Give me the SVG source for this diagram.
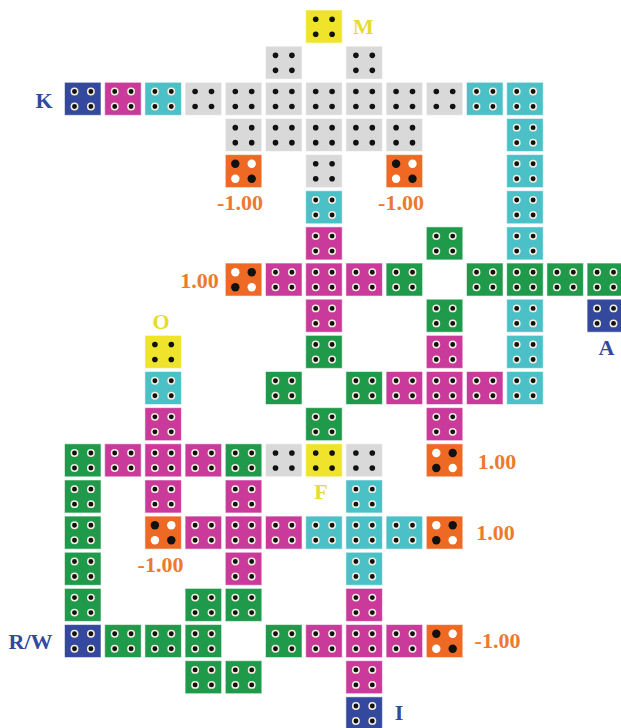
<svg xmlns="http://www.w3.org/2000/svg" xmlns:xlink="http://www.w3.org/1999/xlink" width="621" height="728" viewBox="0 0 621 728">
<style>
.cell{stroke:#ffffff;stroke-opacity:0.55;stroke-width:1}
.gray{fill:#d9d9d9}.blue{fill:#34499d}.mag{fill:#c93a9b}.cyan{fill:#4bc1c7}.grn{fill:#1f9a4a}.yel{fill:#efe42b}.org{fill:#ee6a24}
.lbl{font-family:"Liberation Serif","Times New Roman",serif;font-weight:bold;font-size:22px;text-anchor:middle}
.lb{fill:#34499d}.ly{fill:#e6dc2e}.lo{fill:#ec7a2e}
.rd{fill:#111;stroke:#f4eedf;stroke-width:1.5}
.pd{fill:#111}
</style>
<defs>
<rect id="box" class="cell" x="0" y="0" width="36.5" height="33"/>
<g id="dots">
<circle class="rd" cx="10" cy="9.2" r="3.2"/>
<circle class="rd" cx="26.4" cy="9.2" r="3.2"/>
<circle class="rd" cx="10" cy="24.2" r="3.2"/>
<circle class="rd" cx="26.4" cy="24.2" r="3.2"/>
</g>
<g id="pdots">
<circle class="pd" cx="10" cy="9.2" r="2.8"/>
<circle class="pd" cx="26.4" cy="9.2" r="2.8"/>
<circle class="pd" cx="10" cy="24.2" r="2.8"/>
<circle class="pd" cx="26.4" cy="24.2" r="2.8"/>
</g>
<g id="oa">
<circle cx="10" cy="9.2" r="4.2" fill="#111"/>
<circle cx="26.4" cy="9.2" r="4.2" fill="#fff"/>
<circle cx="10" cy="24.2" r="4.2" fill="#fff"/>
<circle cx="26.4" cy="24.2" r="4.2" fill="#111"/>
</g>
<g id="ob">
<circle cx="10" cy="9.2" r="4.2" fill="#fff"/>
<circle cx="26.4" cy="9.2" r="4.2" fill="#111"/>
<circle cx="10" cy="24.2" r="4.2" fill="#111"/>
<circle cx="26.4" cy="24.2" r="4.2" fill="#fff"/>
</g>
</defs>
<rect width="621" height="728" fill="#ffffff"/>
<g id="connectors"/>
<g id="nodes">
<!-- row 0 -->
<g id="r0c6" transform="translate(305.7,10)"><use href="#box" class="yel"/><use href="#pdots"/></g>
<!-- row 1 -->
<g id="r1c5" transform="translate(265.5,46.15)"><use href="#box" class="gray"/><use href="#pdots"/></g>
<g id="r1c7" transform="translate(345.9,46.15)"><use href="#box" class="gray"/><use href="#pdots"/></g>
<!-- row 2 -->
<g id="r2c0" transform="translate(64.5,82.3)"><use href="#box" class="blue"/><use href="#dots"/></g>
<g id="r2c1" transform="translate(104.7,82.3)"><use href="#box" class="mag"/><use href="#dots"/></g>
<g id="r2c2" transform="translate(144.9,82.3)"><use href="#box" class="cyan"/><use href="#dots"/></g>
<g id="r2c3" transform="translate(185.1,82.3)"><use href="#box" class="gray"/><use href="#pdots"/></g>
<g id="r2c4" transform="translate(225.3,82.3)"><use href="#box" class="gray"/><use href="#pdots"/></g>
<g id="r2c5" transform="translate(265.5,82.3)"><use href="#box" class="gray"/><use href="#pdots"/></g>
<g id="r2c6" transform="translate(305.7,82.3)"><use href="#box" class="gray"/><use href="#pdots"/></g>
<g id="r2c7" transform="translate(345.9,82.3)"><use href="#box" class="gray"/><use href="#pdots"/></g>
<g id="r2c8" transform="translate(386.1,82.3)"><use href="#box" class="gray"/><use href="#pdots"/></g>
<g id="r2c9" transform="translate(426.3,82.3)"><use href="#box" class="gray"/><use href="#pdots"/></g>
<g id="r2c10" transform="translate(466.5,82.3)"><use href="#box" class="cyan"/><use href="#dots"/></g>
<g id="r2c11" transform="translate(506.7,82.3)"><use href="#box" class="cyan"/><use href="#dots"/></g>
<!-- row 3 -->
<g id="r3c4" transform="translate(225.3,118.45)"><use href="#box" class="gray"/><use href="#pdots"/></g>
<g id="r3c5" transform="translate(265.5,118.45)"><use href="#box" class="gray"/><use href="#pdots"/></g>
<g id="r3c6" transform="translate(305.7,118.45)"><use href="#box" class="gray"/><use href="#pdots"/></g>
<g id="r3c7" transform="translate(345.9,118.45)"><use href="#box" class="gray"/><use href="#pdots"/></g>
<g id="r3c8" transform="translate(386.1,118.45)"><use href="#box" class="gray"/><use href="#pdots"/></g>
<g id="r3c11" transform="translate(506.7,118.45)"><use href="#box" class="cyan"/><use href="#dots"/></g>
<!-- row 4 -->
<g id="r4c4" transform="translate(225.3,154.6)"><use href="#box" class="org"/><use href="#oa"/></g>
<g id="r4c6" transform="translate(305.7,154.6)"><use href="#box" class="gray"/><use href="#pdots"/></g>
<g id="r4c8" transform="translate(386.1,154.6)"><use href="#box" class="org"/><use href="#oa"/></g>
<g id="r4c11" transform="translate(506.7,154.6)"><use href="#box" class="cyan"/><use href="#dots"/></g>
<!-- row 5 -->
<g id="r5c6" transform="translate(305.7,190.75)"><use href="#box" class="cyan"/><use href="#dots"/></g>
<g id="r5c11" transform="translate(506.7,190.75)"><use href="#box" class="cyan"/><use href="#dots"/></g>
<!-- row 6 -->
<g id="r6c6" transform="translate(305.7,226.9)"><use href="#box" class="mag"/><use href="#dots"/></g>
<g id="r6c9" transform="translate(426.3,226.9)"><use href="#box" class="grn"/><use href="#dots"/></g>
<g id="r6c11" transform="translate(506.7,226.9)"><use href="#box" class="cyan"/><use href="#dots"/></g>
<!-- row 7 -->
<g id="r7c4" transform="translate(225.3,263.05)"><use href="#box" class="org"/><use href="#ob"/></g>
<g id="r7c5" transform="translate(265.5,263.05)"><use href="#box" class="mag"/><use href="#dots"/></g>
<g id="r7c6" transform="translate(305.7,263.05)"><use href="#box" class="mag"/><use href="#dots"/></g>
<g id="r7c7" transform="translate(345.9,263.05)"><use href="#box" class="mag"/><use href="#dots"/></g>
<g id="r7c8" transform="translate(386.1,263.05)"><use href="#box" class="grn"/><use href="#dots"/></g>
<g id="r7c10" transform="translate(466.5,263.05)"><use href="#box" class="grn"/><use href="#dots"/></g>
<g id="r7c11" transform="translate(506.7,263.05)"><use href="#box" class="grn"/><use href="#dots"/></g>
<g id="r7c12" transform="translate(546.9,263.05)"><use href="#box" class="grn"/><use href="#dots"/></g>
<g id="r7c13" transform="translate(587.1,263.05)"><use href="#box" class="grn"/><use href="#dots"/></g>
<!-- row 8 -->
<g id="r8c6" transform="translate(305.7,299.2)"><use href="#box" class="mag"/><use href="#dots"/></g>
<g id="r8c9" transform="translate(426.3,299.2)"><use href="#box" class="grn"/><use href="#dots"/></g>
<g id="r8c11" transform="translate(506.7,299.2)"><use href="#box" class="cyan"/><use href="#dots"/></g>
<g id="r8c13" transform="translate(587.1,299.2)"><use href="#box" class="blue"/><use href="#dots"/></g>
<!-- row 9 -->
<g id="r9c2" transform="translate(144.9,335.35)"><use href="#box" class="yel"/><use href="#pdots"/></g>
<g id="r9c6" transform="translate(305.7,335.35)"><use href="#box" class="grn"/><use href="#dots"/></g>
<g id="r9c9" transform="translate(426.3,335.35)"><use href="#box" class="mag"/><use href="#dots"/></g>
<g id="r9c11" transform="translate(506.7,335.35)"><use href="#box" class="cyan"/><use href="#dots"/></g>
<!-- row 10 -->
<g id="r10c2" transform="translate(144.9,371.5)"><use href="#box" class="cyan"/><use href="#dots"/></g>
<g id="r10c5" transform="translate(265.5,371.5)"><use href="#box" class="grn"/><use href="#dots"/></g>
<g id="r10c7" transform="translate(345.9,371.5)"><use href="#box" class="grn"/><use href="#dots"/></g>
<g id="r10c8" transform="translate(386.1,371.5)"><use href="#box" class="mag"/><use href="#dots"/></g>
<g id="r10c9" transform="translate(426.3,371.5)"><use href="#box" class="mag"/><use href="#dots"/></g>
<g id="r10c10" transform="translate(466.5,371.5)"><use href="#box" class="mag"/><use href="#dots"/></g>
<g id="r10c11" transform="translate(506.7,371.5)"><use href="#box" class="cyan"/><use href="#dots"/></g>
<!-- row 11 -->
<g id="r11c2" transform="translate(144.9,407.65)"><use href="#box" class="mag"/><use href="#dots"/></g>
<g id="r11c6" transform="translate(305.7,407.65)"><use href="#box" class="grn"/><use href="#dots"/></g>
<g id="r11c9" transform="translate(426.3,407.65)"><use href="#box" class="mag"/><use href="#dots"/></g>
<!-- row 12 -->
<g id="r12c0" transform="translate(64.5,443.8)"><use href="#box" class="grn"/><use href="#dots"/></g>
<g id="r12c1" transform="translate(104.7,443.8)"><use href="#box" class="mag"/><use href="#dots"/></g>
<g id="r12c2" transform="translate(144.9,443.8)"><use href="#box" class="mag"/><use href="#dots"/></g>
<g id="r12c3" transform="translate(185.1,443.8)"><use href="#box" class="mag"/><use href="#dots"/></g>
<g id="r12c4" transform="translate(225.3,443.8)"><use href="#box" class="grn"/><use href="#dots"/></g>
<g id="r12c5" transform="translate(265.5,443.8)"><use href="#box" class="gray"/><use href="#pdots"/></g>
<g id="r12c6" transform="translate(305.7,443.8)"><use href="#box" class="yel"/><use href="#pdots"/></g>
<g id="r12c7" transform="translate(345.9,443.8)"><use href="#box" class="gray"/><use href="#pdots"/></g>
<g id="r12c9" transform="translate(426.3,443.8)"><use href="#box" class="org"/><use href="#ob"/></g>
<!-- row 13 -->
<g id="r13c0" transform="translate(64.5,479.95)"><use href="#box" class="grn"/><use href="#dots"/></g>
<g id="r13c2" transform="translate(144.9,479.95)"><use href="#box" class="mag"/><use href="#dots"/></g>
<g id="r13c4" transform="translate(225.3,479.95)"><use href="#box" class="mag"/><use href="#dots"/></g>
<g id="r13c7" transform="translate(345.9,479.95)"><use href="#box" class="cyan"/><use href="#dots"/></g>
<!-- row 14 -->
<g id="r14c0" transform="translate(64.5,516.1)"><use href="#box" class="grn"/><use href="#dots"/></g>
<g id="r14c2" transform="translate(144.9,516.1)"><use href="#box" class="org"/><use href="#oa"/></g>
<g id="r14c3" transform="translate(185.1,516.1)"><use href="#box" class="mag"/><use href="#dots"/></g>
<g id="r14c4" transform="translate(225.3,516.1)"><use href="#box" class="mag"/><use href="#dots"/></g>
<g id="r14c5" transform="translate(265.5,516.1)"><use href="#box" class="mag"/><use href="#dots"/></g>
<g id="r14c6" transform="translate(305.7,516.1)"><use href="#box" class="cyan"/><use href="#dots"/></g>
<g id="r14c7" transform="translate(345.9,516.1)"><use href="#box" class="cyan"/><use href="#dots"/></g>
<g id="r14c8" transform="translate(386.1,516.1)"><use href="#box" class="cyan"/><use href="#dots"/></g>
<g id="r14c9" transform="translate(426.3,516.1)"><use href="#box" class="org"/><use href="#ob"/></g>
<!-- row 15 -->
<g id="r15c0" transform="translate(64.5,552.25)"><use href="#box" class="grn"/><use href="#dots"/></g>
<g id="r15c4" transform="translate(225.3,552.25)"><use href="#box" class="mag"/><use href="#dots"/></g>
<g id="r15c7" transform="translate(345.9,552.25)"><use href="#box" class="cyan"/><use href="#dots"/></g>
<!-- row 16 -->
<g id="r16c0" transform="translate(64.5,588.4)"><use href="#box" class="grn"/><use href="#dots"/></g>
<g id="r16c3" transform="translate(185.1,588.4)"><use href="#box" class="grn"/><use href="#dots"/></g>
<g id="r16c4" transform="translate(225.3,588.4)"><use href="#box" class="grn"/><use href="#dots"/></g>
<g id="r16c7" transform="translate(345.9,588.4)"><use href="#box" class="mag"/><use href="#dots"/></g>
<!-- row 17 -->
<g id="r17c0" transform="translate(64.5,624.55)"><use href="#box" class="blue"/><use href="#dots"/></g>
<g id="r17c1" transform="translate(104.7,624.55)"><use href="#box" class="grn"/><use href="#dots"/></g>
<g id="r17c2" transform="translate(144.9,624.55)"><use href="#box" class="grn"/><use href="#dots"/></g>
<g id="r17c3" transform="translate(185.1,624.55)"><use href="#box" class="grn"/><use href="#dots"/></g>
<g id="r17c5" transform="translate(265.5,624.55)"><use href="#box" class="grn"/><use href="#dots"/></g>
<g id="r17c6" transform="translate(305.7,624.55)"><use href="#box" class="mag"/><use href="#dots"/></g>
<g id="r17c7" transform="translate(345.9,624.55)"><use href="#box" class="mag"/><use href="#dots"/></g>
<g id="r17c8" transform="translate(386.1,624.55)"><use href="#box" class="mag"/><use href="#dots"/></g>
<g id="r17c9" transform="translate(426.3,624.55)"><use href="#box" class="org"/><use href="#oa"/></g>
<!-- row 18 -->
<g id="r18c3" transform="translate(185.1,660.7)"><use href="#box" class="grn"/><use href="#dots"/></g>
<g id="r18c4" transform="translate(225.3,660.7)"><use href="#box" class="grn"/><use href="#dots"/></g>
<g id="r18c7" transform="translate(345.9,660.7)"><use href="#box" class="mag"/><use href="#dots"/></g>
<!-- row 19 -->
<g id="r19c7" transform="translate(345.9,696.85)"><use href="#box" class="blue"/><use href="#dots"/></g>
</g>
<g id="labels">
<text class="lbl lb" x="44" y="108">K</text>
<text class="lbl ly" x="363.5" y="34">M</text>
<text class="lbl lo" x="240" y="210">-1.00</text>
<text class="lbl lo" x="401" y="210">-1.00</text>
<text class="lbl lo" x="199.5" y="288">1.00</text>
<text class="lbl ly" x="161" y="329">O</text>
<text class="lbl lb" x="606.5" y="355">A</text>
<text class="lbl lo" x="497" y="469">1.00</text>
<text class="lbl ly" x="321" y="499">F</text>
<text class="lbl lo" x="495.5" y="540">1.00</text>
<text class="lbl lo" x="160.5" y="571.5">-1.00</text>
<text class="lbl lb" x="30.5" y="649">R/W</text>
<text class="lbl lo" x="497.5" y="648">-1.00</text>
<text class="lbl lb" x="399" y="720">I</text>
</g>
</svg>
